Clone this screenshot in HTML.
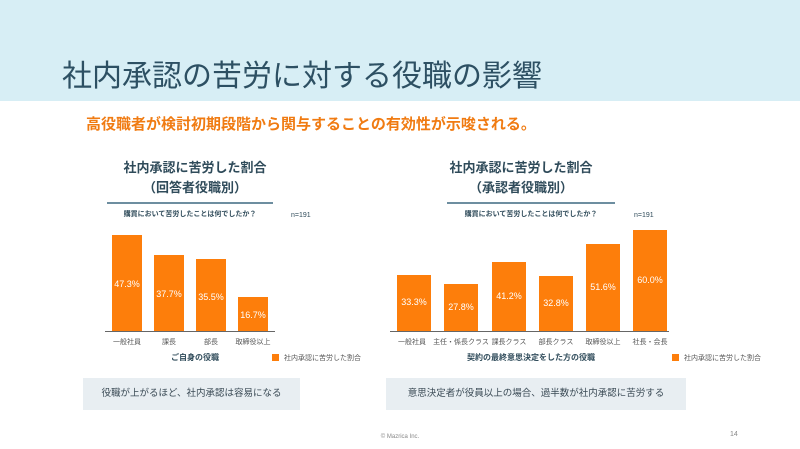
<!DOCTYPE html><html><head><meta charset="utf-8"><style>
*{margin:0;padding:0;box-sizing:border-box}
body{width:800px;height:449px;background:#fff;position:relative;overflow:hidden;font-family:"Liberation Sans","Noto Sans CJK JP",sans-serif;color:#2f4b5a}
.a{position:absolute;white-space:nowrap}
.bar{position:absolute;background:#fd7e0b;color:#fff;font-size:9px;text-align:center}
.c{transform:translateX(-50%)}
.xl{position:absolute;top:337px;font-size:7px;color:#555;transform:translateX(-50%);white-space:nowrap}
</style></head><body>
<div class="a" style="left:0;top:0;width:800px;height:101px;background:#d7eef5"></div>
<div class="a" style="left:62px;top:51px;font-size:30px;color:#2d5063">社内承認の苦労に対する役職の影響</div>
<div class="a" style="left:86px;top:113px;font-size:15px;font-weight:bold;color:#f07b12">高役職者が検討初期段階から関与することの有効性が示唆される。</div>

<div class="a c" style="left:195px;top:158px;font-size:13px;font-weight:bold;text-align:center;line-height:20px">社内承認に苦労した割合<br>（回答者役職別）</div>
<div class="a" style="left:107px;top:202px;width:166px;height:2px;background:#6d8ea0"></div>
<div class="a c" style="left:190px;top:209px;font-size:7px;font-weight:bold">購買において苦労したことは何でしたか？</div>
<div class="a" style="left:291px;top:212px;font-size:7px">n=191</div>
<div class="bar" style="left:112px;top:235px;width:30px;height:96px;padding-top:44px">47.3%</div>
<div class="bar" style="left:154px;top:255px;width:30px;height:76px;padding-top:34px">37.7%</div>
<div class="bar" style="left:196px;top:259px;width:30px;height:72px;padding-top:33px">35.5%</div>
<div class="bar" style="left:238px;top:297px;width:30px;height:34px;padding-top:13px">16.7%</div>
<div class="a" style="left:105px;top:331px;width:170px;height:1px;background:#666"></div>
<div class="xl" style="left:127px">一般社員</div><div class="xl" style="left:169px">課長</div><div class="xl" style="left:211px">部長</div><div class="xl" style="left:253px">取締役以上</div>
<div class="a c" style="left:195px;top:352px;font-size:8px;font-weight:bold">ご自身の役職</div>
<div class="a" style="left:272px;top:354px;width:7px;height:7px;background:#fd7e0b"></div>
<div class="a" style="left:284px;top:353px;font-size:7px;color:#555">社内承認に苦労した割合</div>
<div class="a" style="left:83px;top:378px;width:217px;height:32px;background:#e8eef2;font-size:9.5px;line-height:32px;text-align:center;color:#3a4a55">役職が上がるほど、社内承認は容易になる</div>

<div class="a c" style="left:521px;top:158px;font-size:13px;font-weight:bold;text-align:center;line-height:20px">社内承認に苦労した割合<br>（承認者役職別）</div>
<div class="a" style="left:447px;top:202px;width:168px;height:2px;background:#6d8ea0"></div>
<div class="a c" style="left:531px;top:209px;font-size:7px;font-weight:bold">購買において苦労したことは何でしたか？</div>
<div class="a" style="left:634px;top:212px;font-size:7px">n=191</div>
<div class="bar" style="left:397px;top:275px;width:34px;height:56px;padding-top:22px">33.3%</div>
<div class="bar" style="left:444px;top:284px;width:34px;height:47px;padding-top:18px">27.8%</div>
<div class="bar" style="left:492px;top:262px;width:34px;height:69px;padding-top:29px">41.2%</div>
<div class="bar" style="left:539px;top:276px;width:34px;height:55px;padding-top:22px">32.8%</div>
<div class="bar" style="left:586px;top:244px;width:34px;height:87px;padding-top:38px">51.6%</div>
<div class="bar" style="left:633px;top:230px;width:34px;height:101px;padding-top:45px">60.0%</div>
<div class="a" style="left:390px;top:331px;width:279px;height:1px;background:#666"></div>
<div class="xl" style="left:412px">一般社員</div><div class="xl" style="left:461px">主任・係長クラス</div><div class="xl" style="left:509px">課長クラス</div><div class="xl" style="left:556px">部長クラス</div><div class="xl" style="left:603px">取締役以上</div><div class="xl" style="left:650px">社長・会長</div>
<div class="a c" style="left:531px;top:352px;font-size:8px;font-weight:bold">契約の最終意思決定をした方の役職</div>
<div class="a" style="left:672px;top:354px;width:7px;height:7px;background:#fd7e0b"></div>
<div class="a" style="left:684px;top:353px;font-size:7px;color:#555">社内承認に苦労した割合</div>
<div class="a" style="left:386px;top:378px;width:300px;height:32px;background:#e8eef2;font-size:9.5px;line-height:32px;text-align:center;color:#3a4a55">意思決定者が役員以上の場合、過半数が社内承認に苦労する</div>

<div class="a c" style="left:400px;top:434px;font-size:6px;color:#888">© Mazrica Inc.</div>
<div class="a" style="left:730px;top:431px;font-size:7px;color:#888">14</div>
</body></html>
